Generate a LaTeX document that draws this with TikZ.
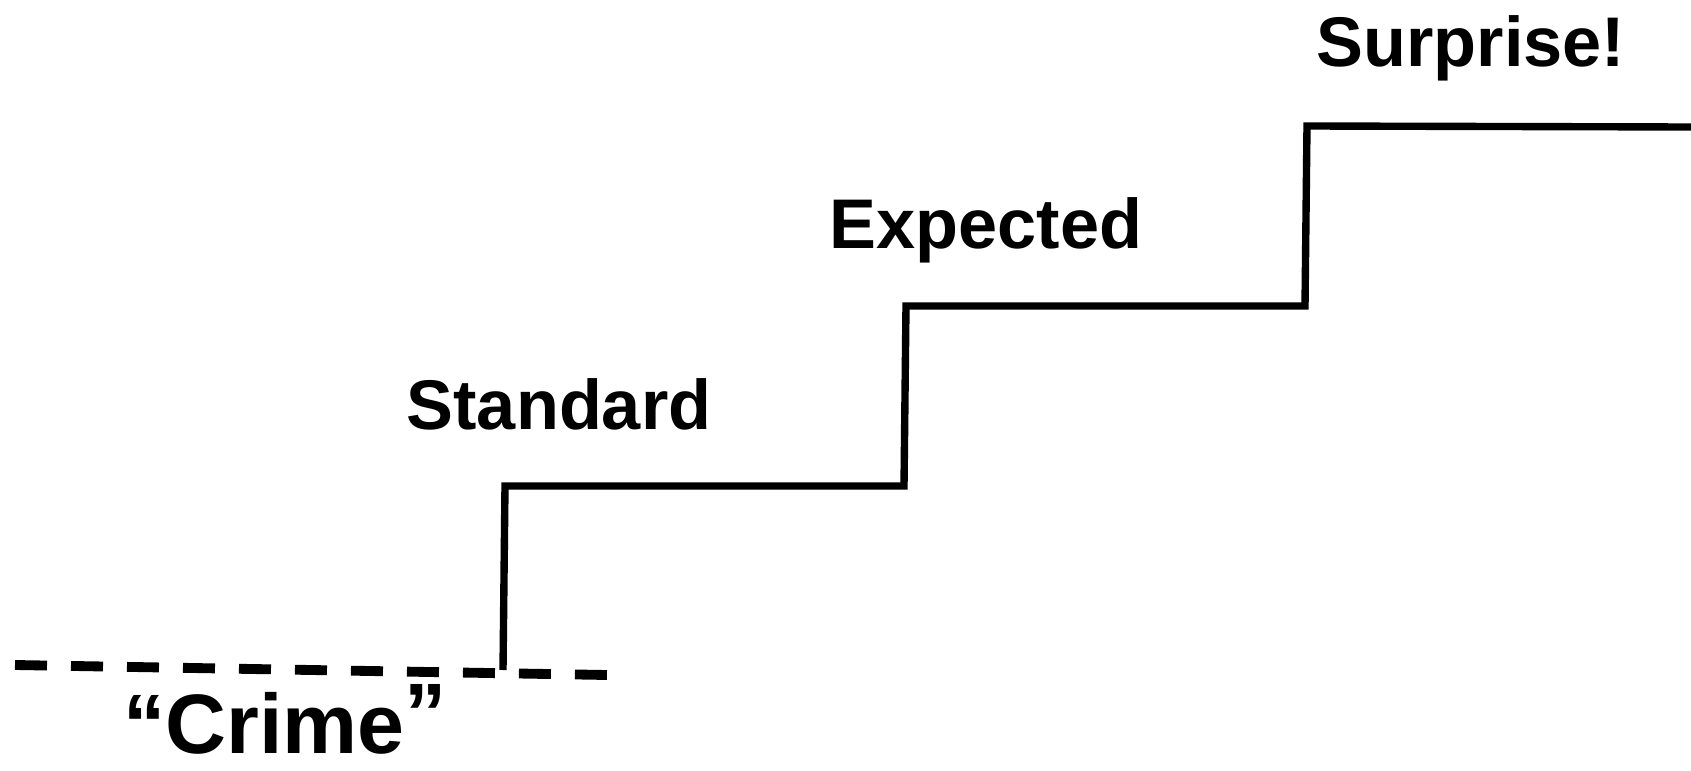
\documentclass[tikz,border=0pt]{standalone}
\usepackage{fontspec}
\setmainfont{Liberation Sans}
\usepackage{tikz}

\begin{document}
\begin{tikzpicture}[
      level/.style={font=\fontsize{20}{24}\selectfont\bfseries, anchor=base, inner sep=0pt},
      crime/.style={font=\fontsize{24}{29}\selectfont\bfseries, anchor=base, inner sep=0pt},
      stair/.style={line width=2.1pt, draw=black, line join=miter},
      floorline/.style={line width=2.8pt, draw=black, dash pattern=on 0.32cm off 0.24cm}
    ]
    \useasboundingbox (0,0) rectangle (16.91,7.70);
    % baseline of crime
    \coordinate (floorA) at (0.15,1.05);
    \coordinate (floorB) at (6.07,0.95);
    \draw[floorline] (floorA) -- (floorB);
    % stair corners
    \coordinate (s0) at (5.03,1.00);
    \coordinate (s1) at (5.05,2.84);
    \coordinate (s2) at (9.04,2.84);
    \coordinate (s3) at (9.06,4.64);
    \coordinate (s4) at (13.05,4.64);
    \coordinate (s5) at (13.07,6.44);
    \coordinate (s6) at (16.91,6.43);
    \draw[stair] (s0) -- (s1) -- (s2) -- (s3) -- (s4) -- (s5) -- (s6);
    % labels
    \node[crime] (crime) at (2.85,0.17) {“Crime\raisebox{0.12em}{”}};
    \node[level] (standard) at (5.59,3.41) {Standard};
    \node[level] (expected) at (9.86,5.22) {Expected};
    \node[level] (surprise) at (14.71,7.03) {Surprise!};
\end{tikzpicture}
\end{document}
